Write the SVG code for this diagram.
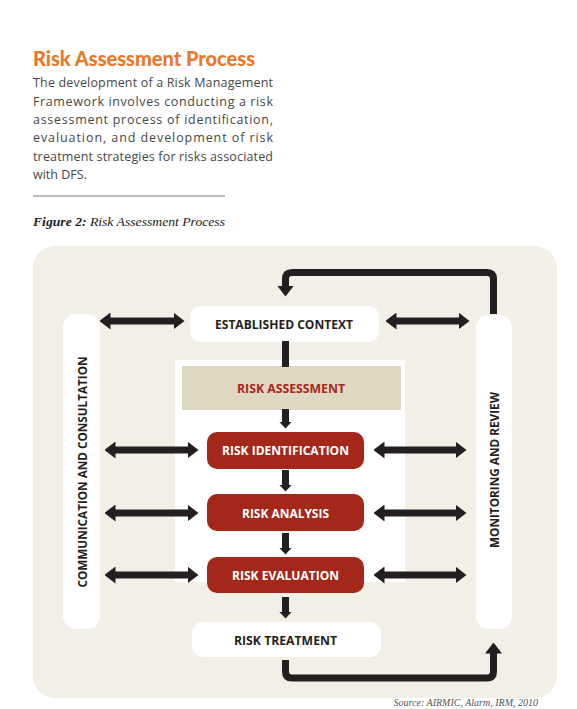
<svg xmlns="http://www.w3.org/2000/svg" width="577" height="709" viewBox="0 0 577 709">
<style>
.para{font-family:"Open Sans","Noto Sans",sans-serif;font-size:12.5px;fill:#474747}
.lbl{font-family:"Open Sans","Noto Sans",sans-serif;font-size:12.5px;font-weight:700;text-anchor:middle}
.dark{fill:#231f20}
.white{fill:#ffffff}
.red{fill:#a6271b}
.wbox{fill:#ffffff}
.rbox{fill:#a3281a}
.conn{stroke:#231f20;stroke-width:7;fill:none}
</style>
<defs>
<marker id="big" viewBox="0 0 11 17" refX="0.5" refY="8.5" markerWidth="11" markerHeight="17" markerUnits="userSpaceOnUse" orient="auto-start-reverse">
<path d="M0,0 L11,8.5 L0,17 Z" fill="#231f20"/>
</marker>
<marker id="small" viewBox="0 0 7 13" refX="0.5" refY="6.5" markerWidth="7" markerHeight="13" markerUnits="userSpaceOnUse" orient="auto">
<path d="M0,0 L7,6.5 L0,13 Z" fill="#231f20"/>
</marker>
</defs>
<rect width="577" height="709" fill="#ffffff"/>
<g id="header">
<text x="33" y="66" font-family="Lato,'Open Sans',sans-serif" font-weight="900" font-size="21" fill="#e8782a" textLength="222" lengthAdjust="spacingAndGlyphs">Risk Assessment Process</text>
<text class="para" x="33" y="87" textLength="240">The development of a Risk Management</text>
<text class="para" x="33" y="106" textLength="240">Framework involves conducting a risk</text>
<text class="para" x="33" y="124" textLength="240">assessment process of identification,</text>
<text class="para" x="33" y="142" textLength="240">evaluation, and development of risk</text>
<text class="para" x="33" y="161" textLength="240">treatment strategies for risks associated</text>
<text class="para" x="33" y="179">with DFS.</text>
<line x1="33" y1="196" x2="225" y2="196" stroke="#555" stroke-width="0.8"/>
<text x="33" y="226" font-family="'Liberation Serif',serif" font-size="13" font-style="italic" fill="#222" textLength="192" lengthAdjust="spacingAndGlyphs"><tspan font-weight="700">Figure 2:</tspan> Risk Assessment Process</text>
</g>
<rect id="panel" x="33" y="246" width="524" height="452" rx="22" fill="#f2efe7"/>
<rect id="inner-panel" x="175" y="360" width="230" height="222" fill="#ffffff"/>
<g id="communication">
<rect class="wbox" x="63" y="314" width="37" height="315" rx="13"/>
<text class="lbl dark" transform="translate(86.5,472) rotate(-90)" textLength="231" lengthAdjust="spacingAndGlyphs">COMMUNICATION AND CONSULTATION</text>
</g>
<g id="monitoring">
<rect class="wbox" x="476" y="315" width="36" height="314" rx="13"/>
<text class="lbl dark" transform="translate(498.5,470) rotate(-90)" textLength="156" lengthAdjust="spacingAndGlyphs">MONITORING AND REVIEW</text>
</g>
<g id="established-context">
<rect class="wbox" x="190" y="306" width="189" height="36" rx="11"/>
<text class="lbl dark" x="284" y="328.5" textLength="138" lengthAdjust="spacingAndGlyphs">ESTABLISHED CONTEXT</text>
</g>
<g id="risk-assessment">
<rect x="182" y="366" width="219" height="44" fill="#dfd8c0"/>
<text class="lbl red" x="291" y="392.5" textLength="108" lengthAdjust="spacingAndGlyphs">RISK ASSESSMENT</text>
</g>
<g id="risk-identification">
<rect class="rbox" x="207" y="432" width="157" height="37" rx="10"/>
<text class="lbl white" x="285.5" y="455" textLength="127" lengthAdjust="spacingAndGlyphs">RISK IDENTIFICATION</text>
</g>
<g id="risk-analysis">
<rect class="rbox" x="207" y="494" width="157" height="37" rx="10"/>
<text class="lbl white" x="285.5" y="517.5" textLength="87" lengthAdjust="spacingAndGlyphs">RISK ANALYSIS</text>
</g>
<g id="risk-evaluation">
<rect class="rbox" x="207" y="557" width="157" height="36" rx="10"/>
<text class="lbl white" x="285.5" y="580" textLength="107" lengthAdjust="spacingAndGlyphs">RISK EVALUATION</text>
</g>
<g id="risk-treatment">
<rect class="wbox" x="192" y="622" width="189" height="35" rx="11"/>
<text class="lbl dark" x="285.5" y="644.5" textLength="103" lengthAdjust="spacingAndGlyphs">RISK TREATMENT</text>
</g>
<g id="connectors">
<line class="conn" x1="285.5" y1="341" x2="285.5" y2="367"/>
<line class="conn" x1="285.5" y1="409" x2="285.5" y2="422" marker-end="url(#small)"/>
<line class="conn" x1="285.5" y1="470" x2="285.5" y2="485" marker-end="url(#small)"/>
<line class="conn" x1="285.5" y1="533" x2="285.5" y2="548" marker-end="url(#small)"/>
<line class="conn" x1="285.5" y1="597" x2="285.5" y2="612" marker-end="url(#small)"/>
<path class="conn" d="M493.5,314 V279 Q493.5,272.5 487,272.5 H292 Q285.5,272.5 285.5,279 V286" marker-end="url(#big)"/>
<path class="conn" d="M285.5,660 V671.5 Q285.5,678 292,678 H487 Q493.5,678 493.5,671.5 V653" marker-end="url(#big)"/>
<line class="conn" x1="110" y1="321" x2="174" y2="321" marker-start="url(#big)" marker-end="url(#big)"/>
<line class="conn" x1="396" y1="321" x2="459" y2="321" marker-start="url(#big)" marker-end="url(#big)"/>
<line class="conn" x1="115" y1="450" x2="188" y2="450" marker-start="url(#big)" marker-end="url(#big)"/>
<line class="conn" x1="384" y1="450" x2="456" y2="450" marker-start="url(#big)" marker-end="url(#big)"/>
<line class="conn" x1="115" y1="513" x2="188" y2="513" marker-start="url(#big)" marker-end="url(#big)"/>
<line class="conn" x1="384" y1="513" x2="456" y2="513" marker-start="url(#big)" marker-end="url(#big)"/>
<line class="conn" x1="115" y1="575" x2="188" y2="575" marker-start="url(#big)" marker-end="url(#big)"/>
<line class="conn" x1="384" y1="575" x2="456" y2="575" marker-start="url(#big)" marker-end="url(#big)"/>
</g>
<text x="538" y="706" text-anchor="end" font-family="'Liberation Serif',serif" font-style="italic" font-size="10" fill="#555">Source: AIRMIC, Alarm, IRM, 2010</text>
</svg>
